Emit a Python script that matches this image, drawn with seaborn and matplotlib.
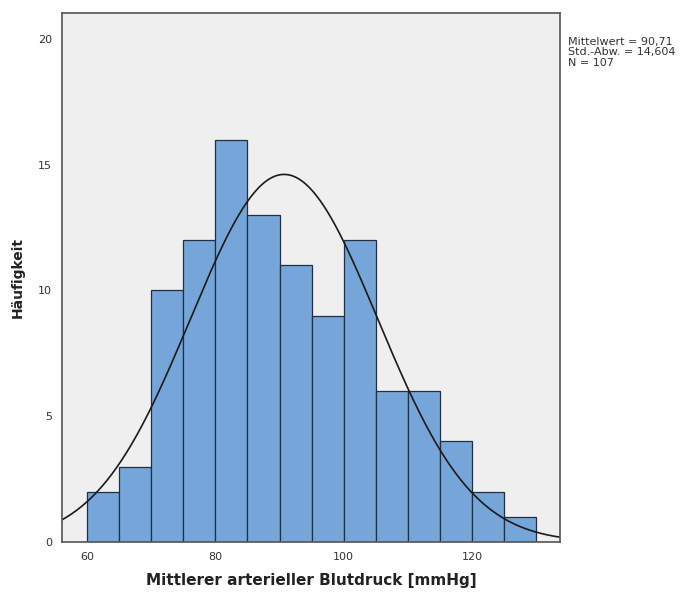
import numpy as np
import pandas as pd
import matplotlib
matplotlib.use("Agg")
import matplotlib.pyplot as plt
import seaborn as sns

# Data
bin_edges = [60, 65, 70, 75, 80, 85, 90, 95, 100, 105, 110, 115, 120, 125, 130]
counts = [2, 3, 10, 12, 16, 13, 11, 9, 12, 6, 6, 4, 2, 1]
mean_val = 90.71
sd_val = 14.604
n_val = 107
x_ticks = [60, 80, 100, 120]
y_ticks = [0, 5, 10, 15, 20]
stats_lines = ["Mittelwert = 90,71", "Std.-Abw. = 14,604", "N = 107"]

sns.set_style("white")
plt.rcParams['font.family'] = ['DejaVu Sans']

fig = plt.figure(figsize=(6.88, 5.93), dpi=100)
ax = fig.add_axes([0.0901, 0.086, 0.7238, 0.892])
ax.set_facecolor("#efefef")

centers = [(bin_edges[i] + bin_edges[i + 1]) / 2 for i in range(len(counts))]
df = pd.DataFrame({"x": centers, "w": counts})
sns.histplot(data=df, x="x", weights="w", bins=bin_edges, ax=ax,
             color="#76a6d9", alpha=1.0, edgecolor="#1f2f45", linewidth=0.9)

# Normal curve scaled to counts
binw = bin_edges[1] - bin_edges[0]
xs = np.linspace(56.1, 133.7, 400)
ys = n_val * binw / (sd_val * np.sqrt(2 * np.pi)) * np.exp(-0.5 * ((xs - mean_val) / sd_val) ** 2)
sns.lineplot(x=xs, y=ys, ax=ax, color="#1a1a1a", linewidth=1.2)

ax.set_xlim(56.1, 133.7)
ax.set_ylim(0, 21.03)
ax.set_xticks(x_ticks)
ax.set_yticks(y_ticks)
ax.tick_params(axis="both", labelsize=8, labelcolor="#333333", length=5, width=1,
               color="#444444", direction="out", pad=2)
for s in ax.spines.values():
    s.set_color("#555555")
    s.set_linewidth(1.2)

ax.set_xlabel("Mittlerer arterieller Blutdruck [mmHg]", fontsize=11, fontweight="bold", color="#222222", labelpad=8)
ax.set_ylabel("Häufigkeit", fontsize=10, fontweight="bold", color="#222222", labelpad=10)

for i, line in enumerate(stats_lines):
    fig.text(0.826, 1 - (42 + i * 10.5) / 593, line, fontsize=8, color="#333333", va="center")

fig.savefig("out.png", dpi=100, facecolor="white")
